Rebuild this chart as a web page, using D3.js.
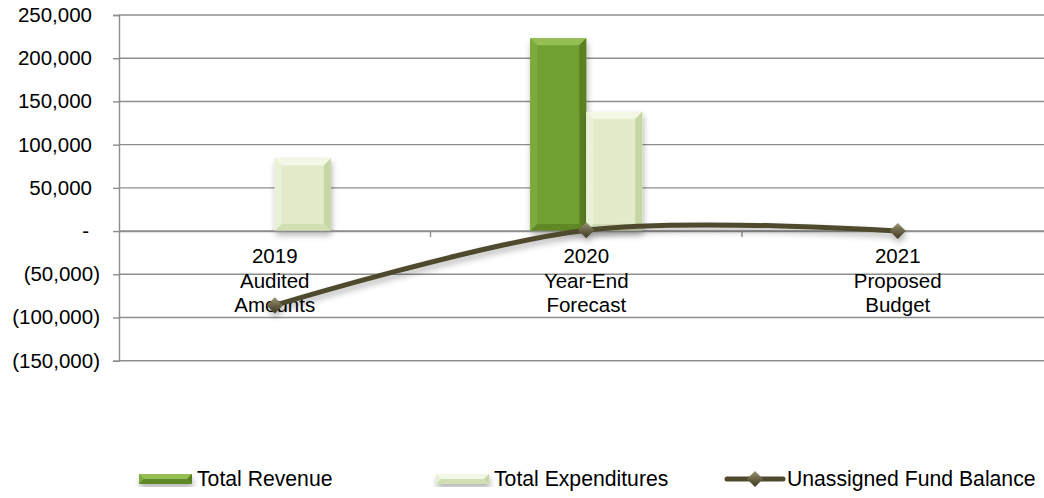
<!DOCTYPE html>
<html>
<head>
<meta charset="utf-8">
<script src="https://cdn.jsdelivr.net/npm/d3@7"></script>
<style>
  html, body { margin: 0; padding: 0; background: #ffffff; }
  svg { display: block; font-family: "Liberation Sans", Arial, sans-serif; }
</style>
</head>
<body>
<svg id="chart" width="1044" height="498"></svg>
<script>
// Fund summary: revenue / expenditures as bars, balance as a smoothed line
const categories = [
  ["2019", "Audited", "Amounts"],
  ["2020", "Year-End", "Forecast"],
  ["2021", "Proposed", "Budget"]
];
const categoryKeys = ["2019", "2020", "2021"];
const totalRevenue = [0, 223000, 0];
const totalExpenditures = [84000, 138000, 0];
const fundBalance = [-86000, 1000, 0];
const seriesNames = ["Total Revenue", "Total Expenditures", "Unassigned Fund Balance"];
const yTicks = [250000, 200000, 150000, 100000, 50000, 0, -50000, -100000, -150000];

const svg = d3.select("#chart");
const plotLeft = 119, plotRight = 1053.5, plotTop = 15, plotBottom = 360.7;

const y = d3.scaleLinear().domain([-150000, 250000]).range([plotBottom, plotTop]);
const x0 = d3.scaleBand().domain(categoryKeys).range([plotLeft, plotRight]).padding(0);
const barW = 56;
const x1 = d3.scaleBand().domain(["rev", "exp"])
  .range([x0.bandwidth() / 2 - barW, x0.bandwidth() / 2 + barW]).padding(0);

const defs = svg.append("defs");
const shadow = defs.append("filter").attr("id", "shadow")
  .attr("x", "-30%").attr("y", "-30%").attr("width", "160%").attr("height", "160%");
shadow.append("feGaussianBlur").attr("in", "SourceAlpha").attr("stdDeviation", 3);
shadow.append("feOffset").attr("dx", 1).attr("dy", 4).attr("result", "b");
shadow.append("feComponentTransfer").append("feFuncA").attr("type", "linear").attr("slope", 0.3);
const m = shadow.append("feMerge");
m.append("feMergeNode");
m.append("feMergeNode").attr("in", "SourceGraphic");

const diamondGrad = defs.append("linearGradient").attr("id", "dgrad")
  .attr("x1", "0").attr("y1", "0").attr("x2", "1").attr("y2", "1");
diamondGrad.append("stop").attr("offset", "0").attr("stop-color", "#9a9474");
diamondGrad.append("stop").attr("offset", "0.5").attr("stop-color", "#6a6347");
diamondGrad.append("stop").attr("offset", "1").attr("stop-color", "#3e3920");

// Horizontal gridlines
const fmt = d3.format(",");
svg.append("g").selectAll("line").data(yTicks).join("line")
  .attr("x1", plotLeft).attr("x2", 1044)
  .attr("y1", d => y(d)).attr("y2", d => y(d))
  .attr("stroke", "#8e8e8e").attr("stroke-width", 1.4);

// Y axis line and ticks
const yAxis = d3.axisLeft(y).tickValues(yTicks).tickSize(6).tickSizeOuter(6).tickFormat("");
const yg = svg.append("g").attr("transform", `translate(${plotLeft},0)`).call(yAxis);
yg.selectAll("path,line").attr("stroke", "#8e8e8e").attr("stroke-width", 1.4);

// Accounting-style tick labels
svg.append("g").selectAll("text").data(yTicks).join("text")
  .attr("x", d => d > 0 ? 92 : d < 0 ? 100 : 89)
  .attr("y", d => y(d) + 7)
  .attr("text-anchor", "end")
  .attr("font-size", 20.5).attr("fill", "#000")
  .text(d => d === 0 ? "-" : d < 0 ? `(${fmt(-d)})` : fmt(d));

// Bevelled bar helper
function bevelBar(g, bx, by, w, h, c) {
  if (h <= 0) return;
  const b = Math.min(7, h / 2, w / 2);
  const bar = g.append("g").attr("filter", "url(#shadow)");
  bar.append("rect").attr("x", bx).attr("y", by).attr("width", w).attr("height", h).attr("fill", c.face);
  const poly = a => a.map(p => p.join(",")).join(" ");
  bar.append("polygon").attr("fill", c.top)
    .attr("points", poly([[bx, by], [bx + w, by], [bx + w - b, by + b], [bx + b, by + b]]));
  bar.append("polygon").attr("fill", c.left)
    .attr("points", poly([[bx, by], [bx + b, by + b], [bx + b, by + h - b], [bx, by + h]]));
  bar.append("polygon").attr("fill", c.right)
    .attr("points", poly([[bx + w, by], [bx + w, by + h], [bx + w - b, by + h - b], [bx + w - b, by + b]]));
  bar.append("polygon").attr("fill", c.bottom)
    .attr("points", poly([[bx, by + h], [bx + w, by + h], [bx + w - b, by + h - b], [bx + b, by + h - b]]));
}

const revColors = { face: "#71a032", top: "#95be55", left: "#7eaa3c", right: "#5a8024", bottom: "#618828" };
const expColors = { face: "#e2ecca", top: "#f2f8e5", left: "#e9f1d6", right: "#c6d7a4", bottom: "#d1dfb5" };

const bars = svg.append("g");
categoryKeys.forEach((k, i) => {
  const gx = x0(k);
  const r = totalRevenue[i], e = totalExpenditures[i];
  bevelBar(bars, gx + x1("rev"), y(Math.max(0, r)), x1.bandwidth(), Math.abs(y(r) - y(0)), revColors);
  bevelBar(bars, gx + x1("exp"), y(Math.max(0, e)), x1.bandwidth(), Math.abs(y(e) - y(0)), expColors);
});

// Category axis along zero
const xAxis = d3.axisBottom(x0).tickSize(0).tickSizeOuter(0).tickFormat("");
const xg = svg.append("g").attr("transform", `translate(0,${y(0)})`).call(xAxis);
xg.select("path").attr("stroke", "#8e8e8e").attr("stroke-width", 1.4);
xg.selectAll(".bound").data(x0.domain().slice(1)).join("line").attr("class", "bound")
  .attr("x1", d => x0(d)).attr("x2", d => x0(d)).attr("y1", 0).attr("y2", 6)
  .attr("stroke", "#8e8e8e").attr("stroke-width", 1.4);

// Category labels (three lines each)
const cl = svg.append("g").selectAll("text").data(categories).join("text")
  .attr("text-anchor", "middle").attr("font-size", 20.5).attr("fill", "#000");
cl.each(function(lines, i) {
  const cx = x0(categoryKeys[i]) + x0.bandwidth() / 2;
  d3.select(this).selectAll("tspan").data(lines).join("tspan")
    .attr("x", cx).attr("y", (d, j) => 263 + j * 24.7).text(d => d);
});

// Smoothed balance line with diamond markers
const pts = categoryKeys.map((k, i) => [x0(k) + x0.bandwidth() / 2, y(fundBalance[i])]);
const lineGen = d3.line().curve(d3.curveCardinal.tension(0));
const lg = svg.append("g").attr("filter", "url(#shadow)");
lg.append("path").attr("d", lineGen(pts)).attr("fill", "none")
  .attr("stroke", "#4f4a2d").attr("stroke-width", 5).attr("stroke-linecap", "round");
const diamond = d3.symbol().type(d3.symbolSquare).size(130);
lg.selectAll("path.mk").data(pts).join("path").attr("class", "mk")
  .attr("d", diamond()).attr("transform", d => `translate(${d[0]},${d[1]}) rotate(45)`)
  .attr("fill", "url(#dgrad)");

// Legend
const legend = svg.append("g");
const legY = 479;
const legItems = [
  { x: 139, kind: "rev" },
  { x: 436, kind: "exp" },
  { x: 727, kind: "line" }
];
legItems.forEach((it, i) => {
  const g = legend.append("g");
  if (it.kind === "line") {
    g.append("line").attr("x1", it.x).attr("x2", it.x + 56).attr("y1", legY).attr("y2", legY)
      .attr("stroke", "#4f4a2d").attr("stroke-width", 5).attr("stroke-linecap", "round");
    g.append("path").attr("d", diamond()).attr("transform", `translate(${it.x + 28},${legY}) rotate(45)`)
      .attr("fill", "url(#dgrad)");
  } else {
    const c = it.kind === "rev" ? revColors : expColors;
    bevelBar(g, it.x, legY - 5, 53, 10, c);
  }
  g.append("text").attr("x", it.x + (it.kind === "line" ? 60 : 58)).attr("y", legY + 7)
    .attr("font-size", 21.2).attr("fill", "#000").text(seriesNames[i]);
});
</script>
</body>
</html>
